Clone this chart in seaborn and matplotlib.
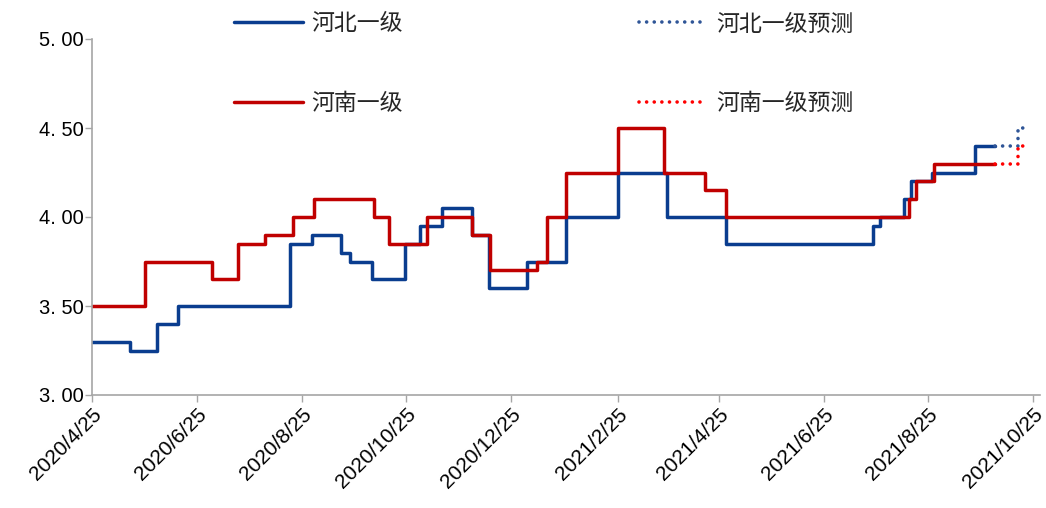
import matplotlib
matplotlib.use("Agg")
import matplotlib.pyplot as plt
from matplotlib.ticker import FuncFormatter
import seaborn as sns
import pandas as pd

# ---- data ----
hebei_dates = ["2020-04-25", "2020-05-17", "2020-06-02", "2020-06-14", "2020-08-18",
               "2020-08-31", "2020-09-17", "2020-09-22", "2020-10-05", "2020-10-24",
               "2020-11-02", "2020-11-15", "2020-12-02", "2020-12-12", "2021-01-03",
               "2021-01-26", "2021-02-25", "2021-03-26", "2021-04-29", "2021-07-24",
               "2021-07-28", "2021-08-11", "2021-08-15", "2021-08-27", "2021-09-21",
               "2021-10-03"]
hebei_vals = [3.30, 3.25, 3.40, 3.50, 3.85,
              3.90, 3.80, 3.75, 3.65, 3.85,
              3.95, 4.05, 3.90, 3.60, 3.75,
              4.00, 4.25, 4.00, 3.85, 3.95,
              4.00, 4.10, 4.20, 4.25, 4.40,
              4.40]

henan_dates = ["2020-04-25", "2020-05-26", "2020-07-04", "2020-07-19", "2020-08-04",
               "2020-08-20", "2020-09-01", "2020-10-06", "2020-10-15", "2020-11-06",
               "2020-12-02", "2020-12-13", "2021-01-09", "2021-01-15", "2021-01-26",
               "2021-02-25", "2021-03-24", "2021-04-17", "2021-04-29", "2021-08-14",
               "2021-08-18", "2021-08-28", "2021-10-03"]
henan_vals = [3.50, 3.75, 3.65, 3.85, 3.90,
              4.00, 4.10, 4.00, 3.85, 4.00,
              3.90, 3.70, 3.75, 4.00, 4.25,
              4.50, 4.25, 4.15, 4.00, 4.10,
              4.20, 4.30, 4.30]

fc_dates = ["2021-10-03", "2021-10-16", "2021-10-22"]
hebei_fc_vals = [4.40, 4.50, 4.50]
henan_fc_vals = [4.30, 4.40, 4.40]

labels = ["河北一级", "河南一级", "河北一级预测", "河南一级预测"]
tick_dates = ["2020-04-25", "2020-06-25", "2020-08-25", "2020-10-25", "2020-12-25",
              "2021-02-25", "2021-04-25", "2021-06-25", "2021-08-25", "2021-10-25"]
tick_labels = ["2020/4/25", "2020/6/25", "2020/8/25", "2020/10/25", "2020/12/25",
               "2021/2/25", "2021/4/25", "2021/6/25", "2021/8/25", "2021/10/25"]
y_ticks = [3.00, 3.50, 4.00, 4.50, 5.00]

# ---- styling ----
sns.set_theme(style="white")
plt.rcParams['font.family'] = ['Liberation Sans', 'Noto Sans CJK SC', 'DejaVu Sans']

fig = plt.figure(figsize=(10.46, 5.08), dpi=100)
ax = fig.add_axes([92/1046, 1-395/508, (1040-92)/1046, (395-39)/508])

BLUE = "#0A3D8F"
RED = "#C00000"
BLUE_FC = "#2F5597"
RED_FC = "#FF0000"

def frame(d, v):
    return pd.DataFrame({"date": pd.to_datetime(d), "value": v})

lw = 2.5
sns.lineplot(data=frame(hebei_dates, hebei_vals), x="date", y="value", ax=ax,
             color=BLUE, linewidth=lw, drawstyle="steps-post", label=labels[0])
sns.lineplot(data=frame(henan_dates, henan_vals), x="date", y="value", ax=ax,
             color=RED, linewidth=lw, drawstyle="steps-post", label=labels[1])
sns.lineplot(data=frame(fc_dates, hebei_fc_vals), x="date", y="value", ax=ax,
             color=BLUE_FC, linewidth=2.6, drawstyle="steps-post", label=labels[2],
             linestyle=(0, (0.01, 2.1)), dash_capstyle="round")
sns.lineplot(data=frame(fc_dates, henan_fc_vals), x="date", y="value", ax=ax,
             color=RED_FC, linewidth=2.6, drawstyle="steps-post", label=labels[3],
             linestyle=(0, (0.01, 2.1)), dash_capstyle="round")

ax.set_xlim(pd.Timestamp("2020-04-25"), pd.Timestamp("2021-10-29"))
ax.set_ylim(3.0, 5.0)
ax.set_xticks(pd.to_datetime(tick_dates))
ax.set_xticklabels(tick_labels, rotation=45, ha="right", rotation_mode="anchor",
                   fontsize=15, color="black")
ax.set_yticks(y_ticks)
ax.yaxis.set_major_formatter(FuncFormatter(lambda v, p: f"{v:.2f}".replace(".", ". ")))
ax.tick_params(axis="y", labelsize=14.5, colors="black", length=5, width=1, color="#A6A6A6", pad=1)
ax.tick_params(axis="x", length=5, width=1, color="#A6A6A6", pad=2)
ax.tick_params(axis="both", direction="out", bottom=True, left=True)
ax.set_xlabel("")
ax.set_ylabel("")
for s in ["top", "right"]:
    ax.spines[s].set_visible(False)
for s in ["left", "bottom"]:
    ax.spines[s].set_color("#A6A6A6")
    ax.spines[s].set_linewidth(1.2)
ax.grid(False)

handles, labs = ax.get_legend_handles_labels()
if ax.get_legend():
    ax.get_legend().remove()
fig.legend(handles, labs,
           loc="upper left", bbox_to_anchor=(223/1046, 1-1/508), ncol=2,
           frameon=False, borderpad=0, handlelength=2.97, handletextpad=0.39,
           columnspacing=10.3, labelspacing=2.47,
           prop={"family": ["Noto Sans CJK SC", "DejaVu Sans"], "size": 16.5})

fig.savefig("out.png", dpi=100)
